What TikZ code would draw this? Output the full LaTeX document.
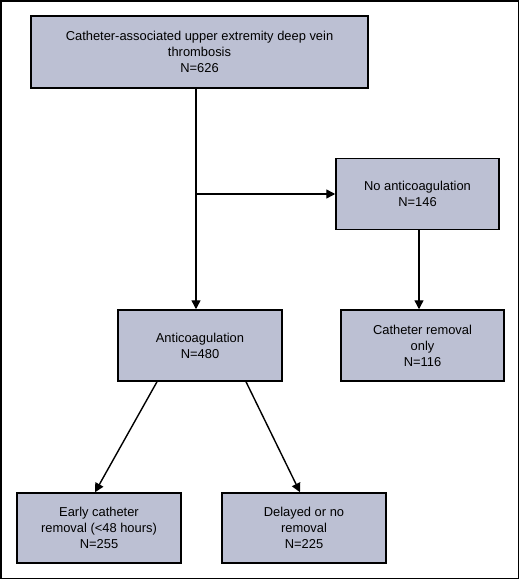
\documentclass[tikz,border=0pt]{standalone}
\usepackage{fontspec}
\setmainfont{Liberation Sans}
\usepackage{tikz}
\usetikzlibrary{arrows.meta,positioning,calc}
\definecolor{boxfill}{RGB}{188,192,211}

\begin{document}
\begin{tikzpicture}[x=1pt,y=-1pt,>={Triangle[width=9pt,length=9pt]},
  flowbox/.style={draw,line width=1.5pt,fill=boxfill,align=center,
    font=\fontsize{12.9}{16}\selectfont,inner sep=0pt},
  arr/.style={->,line width=1.4pt}]
  \useasboundingbox (0,0) rectangle (520,580);
  \draw[line width=1.5pt] (1,1) rectangle (518.5,578.5);
  \node (top) [flowbox,minimum width=337pt,minimum height=72pt] at (199.5,52)
    {Catheter-associated upper extremity deep vein\\thrombosis\\N=626};
  \node (noanti) [flowbox,minimum width=163pt,minimum height=71pt] at (417.5,194)
    {No anticoagulation\\N=146};
  \node (anti) [flowbox,minimum width=164pt,minimum height=71pt] at (200,345.5)
    {Anticoagulation\\N=480};
  \node (remonly) [flowbox,minimum width=163pt,minimum height=71pt] at (422.5,345.5)
    {Catheter removal\\only\\N=116};
  \node (early) [flowbox,minimum width=164pt,minimum height=70pt] at (99,528)
    {Early catheter\\removal (<48 hours)\\N=255};
  \node (delayed) [flowbox,minimum width=164pt,minimum height=70pt] at (304,528)
    {Delayed or no\\removal\\N=225};
  \coordinate (split) at (196,194);
  \draw[arr] (top.south -| split) -- (anti.north -| split);
  \draw[arr] (split) -- (split -| noanti.west);
  \draw[arr] ([xshift=1.5pt]noanti.south) -- ([xshift=-3.5pt]remonly.north);
  \draw[arr] ([xshift=-43pt]anti.south) -- ([xshift=-4pt]early.north);
  \draw[arr] ([xshift=46pt]anti.south) -- ([xshift=-4pt]delayed.north);
\end{tikzpicture}
\end{document}
